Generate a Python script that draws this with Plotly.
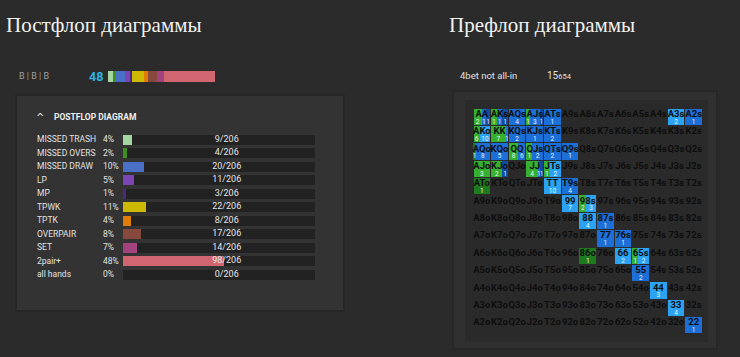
import plotly.graph_objects as go

W, H = 740, 357

# ---------------- data ----------------
post_labels = ["MISSED TRASH", "MISSED OVERS", "MISSED DRAW", "LP", "MP", "TPWK",
               "TPTK", "OVERPAIR", "SET", "2pair+", "all hands"]
post_pct = ["4%", "2%", "10%", "5%", "1%", "11%", "4%", "8%", "7%", "48%", "0%"]
post_counts = [9, 4, 20, 11, 3, 22, 8, 17, 14, 98, 0]
post_total = 206
post_colors = ["#a3d6a0", "#3f8f1f", "#4a6fc6", "#7b46b4", "#4a2a80", "#cdb806",
               "#e07c08", "#87493e", "#a2427f", "#d0666f", "#888888"]

ranks = ["A", "K", "Q", "J", "T", "9", "8", "7", "6", "5", "4", "3", "2"]

seg_colors = {"g": "#35b02f", "dg": "#1e7a1e", "lb": "#2ba3f2", "mb": "#1b6fd6", "db": "#0e4c9f"}
cell_segments = {
    "AA": [("g", 2), ("mb", 1), ("db", 1)],
    "AKs": [("g", 1), ("mb", 1), ("db", 1)],
    "AQs": [("mb", 4)],
    "AJs": [("g", 1), ("mb", 3), ("db", 1)],
    "ATs": [("mb", 1)],
    "A3s": [("lb", 2)],
    "A2s": [("mb", 1)],
    "AKo": [("g", 6), ("lb", 10)],
    "KK": [("g", 7), ("mb", 1)],
    "KQs": [("mb", 2)],
    "KJs": [("mb", 1)],
    "KTs": [("mb", 2)],
    "AQo": [("dg", 1), ("mb", 8)],
    "KQo": [("mb", 5)],
    "QQ": [("g", 8), ("mb", 6)],
    "QJs": [("g", 1), ("mb", 2)],
    "QTs": [("mb", 2)],
    "Q9s": [("mb", 1)],
    "AJo": [("g", 3)],
    "KJo": [("g", 2), ("db", 1)],
    "JJ": [("g", 4), ("mb", 1), ("db", 1)],
    "JTs": [("g", 1), ("lb", 2)],
    "ATo": [("dg", 1)],
    "TT": [("lb", 10)],
    "T9s": [("mb", 4)],
    "99": [("lb", 7)],
    "98s": [("g", 2), ("lb", 3)],
    "88": [("lb", 4)],
    "87s": [("mb", 1)],
    "77": [("mb", 1)],
    "76s": [("mb", 1)],
    "86o": [("dg", 1)],
    "66": [("lb", 2)],
    "65s": [("g", 1), ("lb", 2)],
    "55": [("mb", 2)],
    "44": [("lb", 3)],
    "33": [("lb", 4)],
    "22": [("mb", 1)],
}

bg = "#2b2b2b"


def px(x):
    return x / W


def py(y):
    return 1 - y / H


fig = go.Figure()

# ---------------- panels ----------------
shapes = [
    dict(type="rect", xref="paper", yref="paper", x0=px(15), x1=px(345), y0=py(312), y1=py(94),
         fillcolor="#262626", line_width=0, layer="below"),
    dict(type="rect", xref="paper", yref="paper", x0=px(17), x1=px(343), y0=py(310), y1=py(96),
         fillcolor="#333333", line_width=0, layer="below"),
    dict(type="rect", xref="paper", yref="paper", x0=px(452), x1=px(718), y0=py(350), y1=py(90),
         fillcolor="#262626", line_width=0, layer="below"),
    dict(type="rect", xref="paper", yref="paper", x0=px(454), x1=px(716), y0=py(348), y1=py(92),
         fillcolor="#303030", line_width=0, layer="below"),
    dict(type="rect", xref="paper", yref="paper", x0=px(465), x1=px(708), y0=py(342), y1=py(100),
         fillcolor="#2a2a2a", line_width=0, layer="below"),
]

# ---------------- postflop table (x / y) ----------------
n = len(post_labels)
rows = list(range(n))
track_max = 186
fig.add_trace(go.Bar(x=[track_max] * n, y=rows, orientation="h", width=0.74,
                     marker=dict(color="#222222", line_width=0), xaxis="x", yaxis="y",
                     hoverinfo="skip", showlegend=False))
fig.add_trace(go.Bar(x=post_counts, y=rows, orientation="h", width=0.74,
                     marker=dict(color=post_colors, line_width=0), xaxis="x", yaxis="y",
                     hoverinfo="skip", showlegend=False))
fig.add_trace(go.Scatter(x=[100.5] * n, y=rows, mode="text",
                         text=[f"{c}/{post_total}" for c in post_counts],
                         textfont=dict(family="Roboto", size=9, color="#e6e6e6"),
                         xaxis="x", yaxis="y", hoverinfo="skip", showlegend=False))

annotations = []
for i in range(n):
    annotations.append(dict(x=px(35), y=i, xref="paper", yref="y", text=post_labels[i],
                            showarrow=False, xanchor="left", yanchor="middle",
                            font=dict(family="Roboto", size=8.5, color="#e2e2e2")))
    annotations.append(dict(x=px(101), y=i, xref="paper", yref="y", text=post_pct[i],
                            showarrow=False, xanchor="left", yanchor="middle",
                            font=dict(family="Roboto", size=8.5, color="#e2e2e2")))

# ---------------- mini stacked bar (x2 / y2) ----------------
cum = 0
for c, col in zip(post_counts, post_colors):
    if c > 0:
        fig.add_trace(go.Bar(x=[c], base=[cum], y=[0], orientation="h", width=1,
                             marker=dict(color=col, line_width=0), xaxis="x2", yaxis="y2",
                             hoverinfo="skip", showlegend=False))
    cum += c

# ---------------- preflop grid (x3 / y3) ----------------
traces_by_color = {k: dict(x=[], base=[], y=[]) for k in seg_colors}
hand_x, hand_y, hand_t = [], [], []
cnt_x, cnt_y, cnt_t = [], [], []
pad = 0.03
for i, ri in enumerate(ranks):
    for j, rj in enumerate(ranks):
        if i == j:
            hand = ri + rj
        elif j > i:
            hand = ri + rj + "s"
        else:
            hand = rj + ri + "o"
        hand_x.append(j)
        hand_y.append(i - 0.13)
        hand_t.append(hand)
        segs = cell_segments.get(hand)
        if segs:
            tot = sum(s[1] for s in segs)
            start = j - 0.5 + pad
            span = 1 - 2 * pad
            for key, cnum in segs:
                w = span * cnum / tot
                d = traces_by_color[key]
                d["x"].append(w)
                d["base"].append(start)
                d["y"].append(i)
                cnt_x.append(start + w / 2)
                cnt_y.append(i + 0.3)
                cnt_t.append(str(cnum))
                start += w

for key, d in traces_by_color.items():
    if d["x"]:
        fig.add_trace(go.Bar(x=d["x"], base=d["base"], y=d["y"], orientation="h", width=0.94,
                             marker=dict(color=seg_colors[key], line_width=0),
                             xaxis="x3", yaxis="y3", hoverinfo="skip", showlegend=False))

fig.add_trace(go.Scatter(x=hand_x, y=hand_y, mode="text", text=hand_t,
                         textfont=dict(family="Roboto", size=9.5, color="#0e0e0e", weight="bold"),
                         xaxis="x3", yaxis="y3", hoverinfo="skip", showlegend=False))
fig.add_trace(go.Scatter(x=cnt_x, y=cnt_y, mode="text", text=cnt_t,
                         textfont=dict(family="Roboto", size=6.5, color="#e8f4ff"),
                         xaxis="x3", yaxis="y3", hoverinfo="skip", showlegend=False))

# ---------------- texts ----------------
annotations += [
    dict(x=px(4), y=py(25), xref="paper", yref="paper", text="Постфлоп диаграммы",
         showarrow=False, xanchor="left", yanchor="middle",
         font=dict(family="Liberation Serif", size=21, color="#f2f2f2")),
    dict(x=px(447), y=py(25), xref="paper", yref="paper", text="Префлоп диаграммы",
         showarrow=False, xanchor="left", yanchor="middle",
         font=dict(family="Liberation Serif", size=21, color="#f2f2f2")),
    dict(x=px(17), y=py(76), xref="paper", yref="paper", text="B | B | B",
         showarrow=False, xanchor="left", yanchor="middle",
         font=dict(family="Roboto", size=9, color="#a0a0a0")),
    dict(x=px(87), y=py(76), xref="paper", yref="paper", text="<b>48</b>",
         showarrow=False, xanchor="left", yanchor="middle",
         font=dict(family="Roboto", size=12.5, color="#2db4e2")),
    dict(x=px(458), y=py(75), xref="paper", yref="paper", text="4bet not all-in",
         showarrow=False, xanchor="left", yanchor="middle",
         font=dict(family="Roboto", size=9.5, color="#e0e0e0")),
    dict(x=px(545), y=py(75), xref="paper", yref="paper",
         text="15<span style='font-size:7.5px'>654</span>",
         showarrow=False, xanchor="left", yanchor="middle",
         font=dict(family="Roboto", size=10, color="#e0e0e0")),
    dict(x=px(34), y=py(118), xref="paper", yref="paper", text="^",
         showarrow=False, xanchor="left", yanchor="middle",
         font=dict(family="DejaVu Sans", size=10, color="#e0e0e0")),
    dict(x=px(52), y=py(117), xref="paper", yref="paper", text="<b>POSTFLOP DIAGRAM</b>",
         showarrow=False, xanchor="left", yanchor="middle",
         font=dict(family="Roboto", size=8.5, color="#f0f0f0")),
]

hidden = dict(showgrid=False, zeroline=False, showticklabels=False, ticks="", showline=False, fixedrange=True)

fig.update_layout(
    width=W, height=H,
    margin=dict(l=0, r=0, t=0, b=0),
    paper_bgcolor=bg, plot_bgcolor="rgba(0,0,0,0)",
    barmode="overlay", bargap=0,
    shapes=shapes, annotations=annotations,
    showlegend=False,
    xaxis=dict(domain=[px(123), px(315)], range=[0, track_max], anchor="y", **hidden),
    yaxis=dict(domain=[py(281.15), py(132.65)], range=[n - 0.5, -0.5], anchor="x", **hidden),
    xaxis2=dict(domain=[px(108), px(215)], range=[0, post_total], anchor="y2", **hidden),
    yaxis2=dict(domain=[py(82), py(71)], range=[-0.5, 0.5], anchor="x2", **hidden),
    xaxis3=dict(domain=[px(473), px(702.5)], range=[-0.5, 12.5], anchor="y3", **hidden),
    yaxis3=dict(domain=[py(334), py(108)], range=[12.5, -0.5], anchor="x3", **hidden),
)

fig.write_html("out.html", config={"displayModeBar": False},
               post_script="document.body.style.margin='0';document.body.style.overflow='hidden';"
                           "document.body.style.background='#2b2b2b';")
